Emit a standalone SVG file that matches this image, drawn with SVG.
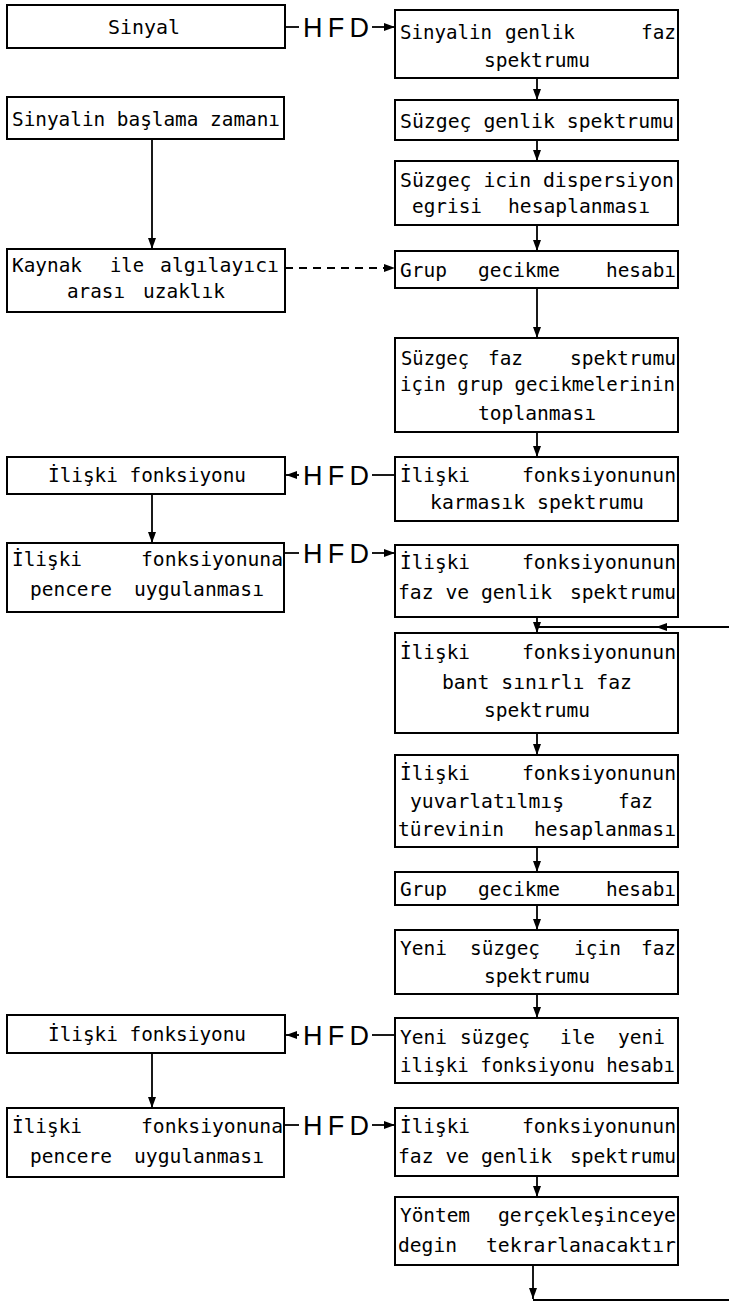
<svg xmlns="http://www.w3.org/2000/svg" width="729" height="1306" viewBox="0 0 729 1306">
<style>
.box{fill:#fff;stroke:#000;stroke-width:2}
.t{font-family:"DejaVu Sans Mono","Liberation Mono",monospace;font-size:19.5px;fill:#000}
.t2{font-family:"DejaVu Sans Mono","Liberation Mono",monospace;font-size:19px;fill:#000}
.h{font-family:"Liberation Sans",Arial,sans-serif;font-size:27px;fill:#000}
.c{stroke:#000;stroke-width:1.8;fill:none}
.d{stroke:#000;stroke-width:1.8;fill:none;stroke-dasharray:8 6}
</style>
<defs>
<marker id="a" markerUnits="userSpaceOnUse" markerWidth="11" markerHeight="8" refX="11" refY="4" orient="auto"><path d="M0,0 L11,4 L0,8 z" fill="#000"/></marker>
</defs>
<g id="connectors">
<line class="c" x1="537" y1="78" x2="537" y2="100" marker-end="url(#a)"/>
<line class="c" x1="537" y1="140" x2="537" y2="161" marker-end="url(#a)"/>
<line class="c" x1="537" y1="225" x2="537" y2="251" marker-end="url(#a)"/>
<line class="c" x1="537" y1="288" x2="537" y2="338" marker-end="url(#a)"/>
<line class="c" x1="537" y1="432" x2="537" y2="457" marker-end="url(#a)"/>
<line class="c" x1="537" y1="617" x2="537" y2="633" marker-end="url(#a)"/>
<path class="c" d="M729,627 L656,627 L537,627" marker-mid="url(#a)"/>
<line class="c" x1="537" y1="733" x2="537" y2="755" marker-end="url(#a)"/>
<line class="c" x1="537" y1="847" x2="537" y2="872" marker-end="url(#a)"/>
<line class="c" x1="537" y1="905" x2="537" y2="930" marker-end="url(#a)"/>
<line class="c" x1="537" y1="994" x2="537" y2="1018" marker-end="url(#a)"/>
<line class="c" x1="537" y1="1176" x2="537" y2="1197" marker-end="url(#a)"/>
<line class="c" x1="533" y1="1265" x2="533" y2="1299" marker-end="url(#a)"/>
<line class="c" x1="533" y1="1300" x2="729" y2="1300"/>
<line class="c" x1="152" y1="139" x2="152" y2="249" marker-end="url(#a)"/>
<line class="c" x1="152" y1="494" x2="152" y2="543" marker-end="url(#a)"/>
<line class="c" x1="152" y1="1053" x2="152" y2="1108" marker-end="url(#a)"/>
<line class="d" x1="285" y1="268" x2="395" y2="268" marker-end="url(#a)"/>
<line class="c" x1="285" y1="27" x2="299" y2="27"/>
<text class="h" x="303" y="37" textLength="66" lengthAdjust="spacing">HFD</text>
<line class="c" x1="372" y1="27" x2="395" y2="27" marker-end="url(#a)"/>
<line class="c" x1="299" y1="475" x2="286" y2="475" marker-end="url(#a)"/>
<text class="h" x="303" y="485" textLength="66" lengthAdjust="spacing">HFD</text>
<line class="c" x1="372" y1="475" x2="395" y2="475"/>
<line class="c" x1="285" y1="553" x2="299" y2="553"/>
<text class="h" x="303" y="563" textLength="66" lengthAdjust="spacing">HFD</text>
<line class="c" x1="372" y1="553" x2="395" y2="553" marker-end="url(#a)"/>
<line class="c" x1="299" y1="1035" x2="286" y2="1035" marker-end="url(#a)"/>
<text class="h" x="303" y="1045" textLength="66" lengthAdjust="spacing">HFD</text>
<line class="c" x1="372" y1="1035" x2="395" y2="1035"/>
<line class="c" x1="285" y1="1125" x2="299" y2="1125"/>
<text class="h" x="303" y="1135" textLength="66" lengthAdjust="spacing">HFD</text>
<line class="c" x1="372" y1="1125" x2="395" y2="1125" marker-end="url(#a)"/>
</g>
<g id="L1"><rect class="box" x="7" y="5" width="278" height="43"/>
<text class="t" y="34"><tspan x="108" textLength="72" lengthAdjust="spacingAndGlyphs">Sinyal</tspan></text></g>
<g id="L2"><rect class="box" x="7" y="97" width="277" height="42"/>
<text class="t" y="126"><tspan x="12" textLength="268" lengthAdjust="spacingAndGlyphs">Sinyalin başlama zamanı</tspan></text></g>
<g id="L3"><rect class="box" x="7" y="249" width="278" height="63"/>
<text class="t" y="272"><tspan x="12" textLength="70" lengthAdjust="spacingAndGlyphs">Kaynak</tspan> <tspan x="110" textLength="34" lengthAdjust="spacingAndGlyphs">ile</tspan> <tspan x="160" textLength="119" lengthAdjust="spacingAndGlyphs">algılayıcı</tspan></text>
<text class="t" y="298"><tspan x="67" textLength="58" lengthAdjust="spacingAndGlyphs">arası</tspan> <tspan x="143" textLength="82" lengthAdjust="spacingAndGlyphs">uzaklık</tspan></text></g>
<g id="L4"><rect class="box" x="7" y="457" width="278" height="37"/>
<text class="t" y="482"><tspan x="48" textLength="198" lengthAdjust="spacingAndGlyphs">İlişki fonksiyonu</tspan></text></g>
<g id="L5"><rect class="box" x="7" y="543" width="277" height="69"/>
<text class="t" y="566"><tspan x="12" textLength="70" lengthAdjust="spacingAndGlyphs">İlişki</tspan> <tspan x="141" textLength="142" lengthAdjust="spacingAndGlyphs">fonksiyonuna</tspan></text>
<text class="t" y="596"><tspan x="30" textLength="82" lengthAdjust="spacingAndGlyphs">pencere</tspan> <tspan x="134" textLength="130" lengthAdjust="spacingAndGlyphs">uygulanması</tspan></text></g>
<g id="L6"><rect class="box" x="7" y="1015" width="278" height="38"/>
<text class="t" y="1041"><tspan x="48" textLength="198" lengthAdjust="spacingAndGlyphs">İlişki fonksiyonu</tspan></text></g>
<g id="L7"><rect class="box" x="7" y="1108" width="277" height="69"/>
<text class="t" y="1133"><tspan x="12" textLength="70" lengthAdjust="spacingAndGlyphs">İlişki</tspan> <tspan x="141" textLength="142" lengthAdjust="spacingAndGlyphs">fonksiyonuna</tspan></text>
<text class="t" y="1163"><tspan x="30" textLength="82" lengthAdjust="spacingAndGlyphs">pencere</tspan> <tspan x="134" textLength="130" lengthAdjust="spacingAndGlyphs">uygulanması</tspan></text></g>
<g id="R1"><rect class="box" x="395" y="10" width="283" height="68"/>
<text class="t" y="39"><tspan x="400" textLength="92" lengthAdjust="spacingAndGlyphs">Sinyalin</tspan> <tspan x="505" textLength="70" lengthAdjust="spacingAndGlyphs">genlik</tspan> <tspan x="641" textLength="35" lengthAdjust="spacingAndGlyphs">faz</tspan></text>
<text class="t" y="67"><tspan x="484" textLength="106" lengthAdjust="spacingAndGlyphs">spektrumu</tspan></text></g>
<g id="R2"><rect class="box" x="395" y="100" width="283" height="40"/>
<text class="t" y="128"><tspan x="400" textLength="274" lengthAdjust="spacingAndGlyphs">Süzgeç genlik spektrumu</tspan></text></g>
<g id="R3"><rect class="box" x="395" y="161" width="283" height="64"/>
<text class="t" y="187"><tspan x="400" textLength="274" lengthAdjust="spacingAndGlyphs">Süzgeç icin dispersiyon</tspan></text>
<text class="t" y="213"><tspan x="412" textLength="70" lengthAdjust="spacingAndGlyphs">egrisi</tspan> <tspan x="508" textLength="142" lengthAdjust="spacingAndGlyphs">hesaplanması</tspan></text></g>
<g id="R4"><rect class="box" x="395" y="251" width="283" height="37"/>
<text class="t" y="277"><tspan x="400" textLength="47" lengthAdjust="spacingAndGlyphs">Grup</tspan> <tspan x="478" textLength="82" lengthAdjust="spacingAndGlyphs">gecikme</tspan> <tspan x="606" textLength="70" lengthAdjust="spacingAndGlyphs">hesabı</tspan></text></g>
<g id="R5"><rect class="box" x="395" y="338" width="283" height="94"/>
<text class="t" y="365"><tspan x="401" textLength="68" lengthAdjust="spacingAndGlyphs">Süzgeç</tspan> <tspan x="488" textLength="35" lengthAdjust="spacingAndGlyphs">faz</tspan> <tspan x="570" textLength="106" lengthAdjust="spacingAndGlyphs">spektrumu</tspan></text>
<text class="t2" y="391"><tspan x="400" textLength="275" lengthAdjust="spacingAndGlyphs">için grup gecikmelerinin</tspan></text>
<text class="t" y="420"><tspan x="478" textLength="118" lengthAdjust="spacingAndGlyphs">toplanması</tspan></text></g>
<g id="R6"><rect class="box" x="395" y="457" width="283" height="64"/>
<text class="t" y="482"><tspan x="400" textLength="70" lengthAdjust="spacingAndGlyphs">İlişki</tspan> <tspan x="522" textLength="154" lengthAdjust="spacingAndGlyphs">fonksiyonunun</tspan></text>
<text class="t" y="509"><tspan x="430" textLength="214" lengthAdjust="spacingAndGlyphs">karmasık spektrumu</tspan></text></g>
<g id="R7"><rect class="box" x="395" y="545" width="283" height="72"/>
<text class="t" y="569"><tspan x="400" textLength="70" lengthAdjust="spacingAndGlyphs">İlişki</tspan> <tspan x="522" textLength="154" lengthAdjust="spacingAndGlyphs">fonksiyonunun</tspan></text>
<text class="t" y="599"><tspan x="398" textLength="154" lengthAdjust="spacingAndGlyphs">faz ve genlik</tspan> <tspan x="570" textLength="106" lengthAdjust="spacingAndGlyphs">spektrumu</tspan></text></g>
<g id="R8"><rect class="box" x="395" y="633" width="283" height="100"/>
<text class="t" y="659"><tspan x="400" textLength="70" lengthAdjust="spacingAndGlyphs">İlişki</tspan> <tspan x="522" textLength="154" lengthAdjust="spacingAndGlyphs">fonksiyonunun</tspan></text>
<text class="t" y="689"><tspan x="442" textLength="190" lengthAdjust="spacingAndGlyphs">bant sınırlı faz</tspan></text>
<text class="t" y="717"><tspan x="484" textLength="106" lengthAdjust="spacingAndGlyphs">spektrumu</tspan></text></g>
<g id="R9"><rect class="box" x="395" y="755" width="283" height="92"/>
<text class="t" y="780"><tspan x="400" textLength="70" lengthAdjust="spacingAndGlyphs">İlişki</tspan> <tspan x="522" textLength="154" lengthAdjust="spacingAndGlyphs">fonksiyonunun</tspan></text>
<text class="t" y="808"><tspan x="410" textLength="154" lengthAdjust="spacingAndGlyphs">yuvarlatılmış</tspan> <tspan x="618" textLength="35" lengthAdjust="spacingAndGlyphs">faz</tspan></text>
<text class="t" y="836"><tspan x="398" textLength="106" lengthAdjust="spacingAndGlyphs">türevinin</tspan> <tspan x="534" textLength="142" lengthAdjust="spacingAndGlyphs">hesaplanması</tspan></text></g>
<g id="R10"><rect class="box" x="395" y="872" width="283" height="33"/>
<text class="t" y="896"><tspan x="400" textLength="47" lengthAdjust="spacingAndGlyphs">Grup</tspan> <tspan x="478" textLength="82" lengthAdjust="spacingAndGlyphs">gecikme</tspan> <tspan x="606" textLength="70" lengthAdjust="spacingAndGlyphs">hesabı</tspan></text></g>
<g id="R11"><rect class="box" x="395" y="930" width="283" height="64"/>
<text class="t" y="955"><tspan x="400" textLength="47" lengthAdjust="spacingAndGlyphs">Yeni</tspan> <tspan x="470" textLength="70" lengthAdjust="spacingAndGlyphs">süzgeç</tspan> <tspan x="574" textLength="47" lengthAdjust="spacingAndGlyphs">için</tspan> <tspan x="641" textLength="35" lengthAdjust="spacingAndGlyphs">faz</tspan></text>
<text class="t" y="983"><tspan x="484" textLength="106" lengthAdjust="spacingAndGlyphs">spektrumu</tspan></text></g>
<g id="R12"><rect class="box" x="395" y="1018" width="283" height="65"/>
<text class="t" y="1044"><tspan x="400" textLength="47" lengthAdjust="spacingAndGlyphs">Yeni</tspan> <tspan x="460" textLength="70" lengthAdjust="spacingAndGlyphs">süzgeç</tspan> <tspan x="560" textLength="35" lengthAdjust="spacingAndGlyphs">ile</tspan> <tspan x="618" textLength="47" lengthAdjust="spacingAndGlyphs">yeni</tspan></text>
<text class="t2" y="1072"><tspan x="400" textLength="275" lengthAdjust="spacingAndGlyphs">ilişki fonksiyonu hesabı</tspan></text></g>
<g id="R13"><rect class="box" x="395" y="1108" width="283" height="68"/>
<text class="t" y="1133"><tspan x="400" textLength="70" lengthAdjust="spacingAndGlyphs">İlişki</tspan> <tspan x="522" textLength="154" lengthAdjust="spacingAndGlyphs">fonksiyonunun</tspan></text>
<text class="t" y="1163"><tspan x="398" textLength="154" lengthAdjust="spacingAndGlyphs">faz ve genlik</tspan> <tspan x="570" textLength="106" lengthAdjust="spacingAndGlyphs">spektrumu</tspan></text></g>
<g id="R14"><rect class="box" x="395" y="1197" width="283" height="68"/>
<text class="t" y="1222"><tspan x="400" textLength="70" lengthAdjust="spacingAndGlyphs">Yöntem</tspan> <tspan x="498" textLength="178" lengthAdjust="spacingAndGlyphs">gerçekleşinceye</tspan></text>
<text class="t" y="1252"><tspan x="398" textLength="59" lengthAdjust="spacingAndGlyphs">degin</tspan> <tspan x="486" textLength="190" lengthAdjust="spacingAndGlyphs">tekrarlanacaktır</tspan></text></g>
</svg>
